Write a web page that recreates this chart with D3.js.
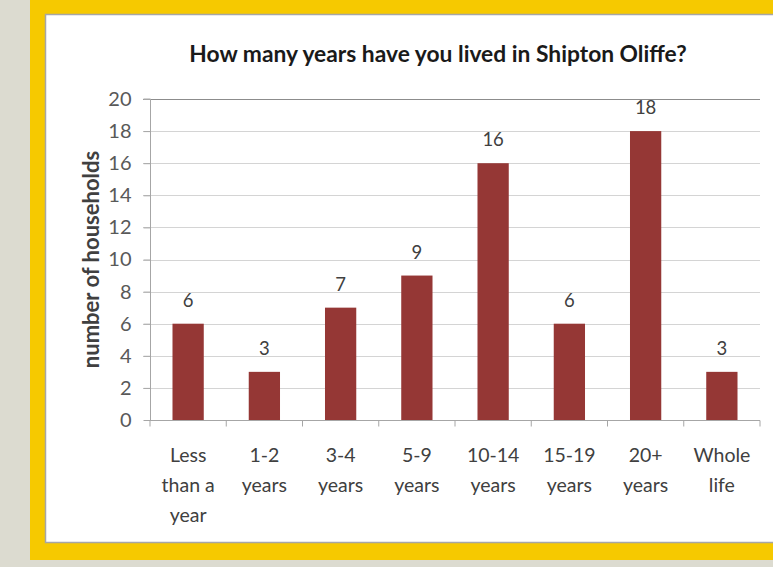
<!DOCTYPE html>
<html><head><meta charset="utf-8">
<script src="https://cdn.jsdelivr.net/npm/d3@7"></script>
<style>body{margin:0;overflow:hidden;background:#dcdbd0}</style>
</head><body>
<script>
const categories = [["Less","than a","year"],["1-2","years"],["3-4","years"],["5-9","years"],["10-14","years"],["15-19","years"],["20+","years"],["Whole","life"]];
const values = [6,3,7,9,16,6,18,3];
const yTicks = [0,2,4,6,8,10,12,14,16,18,20];
const title = "How many years have you lived in Shipton Oliffe?";
const yTitle = "number of households";

const W = 773, H = 567;
const svg = d3.select("body").append("svg").attr("width",W).attr("height",H);
svg.append("rect").attr("width",W).attr("height",H).attr("fill","#dcdbd0");
svg.append("rect").attr("x",30).attr("y",0).attr("width",W-30).attr("height",560).attr("fill","#f6c900");
svg.append("rect").attr("x",45.5).attr("y",14.5).attr("width",W).attr("height",528).attr("fill","#fff").attr("stroke","#a6a6a6").attr("stroke-width",1.5);

const font = "Lato, 'Open Sans', sans-serif";
const x0 = 150, x1 = 760, yTop = 99, yBot = 420;
const x = d3.scaleBand().domain(d3.range(categories.length)).range([x0,x1]).paddingInner(0.59).paddingOuter(0.295);
const y = d3.scaleLinear().domain([0,20]).range([yBot,yTop]);

// gridlines
svg.append("g").selectAll("line").data(yTicks.filter(d=>d>0)).join("line")
  .attr("x1",143).attr("x2",x1).attr("y1",d=>Math.round(y(d))+0.5).attr("y2",d=>Math.round(y(d))+0.5)
  .attr("stroke",d=>d===20?"#8c8c8c":"#d4d4d4").attr("stroke-width",1.2);

// bars
svg.append("g").selectAll("rect").data(values).join("rect")
  .attr("x",(d,i)=>x(i)).attr("width",x.bandwidth())
  .attr("y",d=>y(d)).attr("height",d=>y(0)-y(d)).attr("fill","#953735");

// y axis
const ya = svg.append("g").attr("transform",`translate(${x0+0.5},0)`)
  .call(d3.axisLeft(y).tickValues(yTicks).tickSize(7).tickPadding(12));
ya.select(".domain").attr("stroke","#a6a6a6").attr("d",`M-7,${yTop}H0V${yBot}`);
ya.selectAll(".tick line").attr("stroke","#a6a6a6");
ya.selectAll(".tick text").attr("font-family",font).attr("font-size",20).attr("fill","#595959");

// x axis
const xb = svg.append("g").attr("transform",`translate(0,${yBot+0.5})`);
xb.append("line").attr("x1",x0).attr("x2",x1).attr("stroke","#a6a6a6").attr("stroke-width",1.2);
xb.selectAll("line.t").data(d3.range(categories.length+1)).join("line").attr("class","t")
  .attr("x1",i=>x0+i*(x1-x0)/categories.length).attr("x2",i=>x0+i*(x1-x0)/categories.length)
  .attr("y1",0).attr("y2",6).attr("stroke","#a6a6a6");

const lab = svg.append("g").selectAll("text").data(categories).join("text")
  .attr("text-anchor","middle").attr("font-family",font).attr("font-size",19.5).attr("fill","#404040")
  .attr("transform",(d,i)=>`translate(${x(i)+x.bandwidth()/2},462)`);
lab.selectAll("tspan").data(d=>d).join("tspan").attr("x",0).attr("dy",(d,j)=>j===0?0:30).text(d=>d);

// value labels
svg.append("g").selectAll("text").data(values).join("text")
  .attr("x",(d,i)=>x(i)+x.bandwidth()/2).attr("y",d=>y(d)-17)
  .attr("text-anchor","middle").attr("font-family",font).attr("font-size",18.5).attr("fill","#404040").text(d=>d);

// title
svg.append("text").attr("x",438).attr("y",62).attr("text-anchor","middle")
  .attr("font-family",font).attr("font-weight","bold").attr("font-size",22.8).attr("fill","#1a1a1a").text(title);

// y title
svg.append("text").attr("transform",`translate(99,${(yTop+yBot)/2}) rotate(-90)`).attr("text-anchor","middle")
  .attr("font-family",font).attr("font-weight","bold").attr("font-size",22).attr("fill","#404040").text(yTitle);
</script>
</body></html>
